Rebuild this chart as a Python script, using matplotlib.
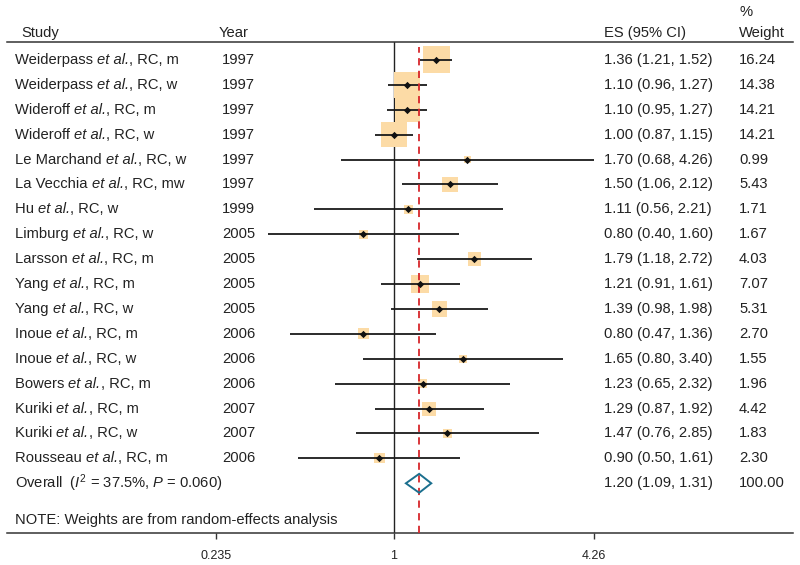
import matplotlib
matplotlib.use('Agg')
import matplotlib.pyplot as plt
import numpy as np

plt.rcParams['font.family'] = ['Liberation Sans', 'DejaVu Sans']
plt.rcParams['mathtext.fontset'] = 'custom'
plt.rcParams['mathtext.rm'] = 'Liberation Sans'
plt.rcParams['mathtext.it'] = 'Liberation Sans:italic'

# data
authors = ['Weiderpass', 'Weiderpass', 'Wideroff', 'Wideroff', 'Le Marchand',
           'La Vecchia', 'Hu', 'Limburg', 'Larsson', 'Yang', 'Yang', 'Inoue',
           'Inoue', 'Bowers', 'Kuriki', 'Kuriki', 'Rousseau']
groups = ['m', 'w', 'm', 'w', 'w', 'mw', 'w', 'w', 'm', 'm', 'w', 'm', 'w', 'm', 'm', 'w', 'm']
years = [1997, 1997, 1997, 1997, 1997, 1997, 1999, 2005, 2005, 2005, 2005,
         2006, 2006, 2006, 2007, 2007, 2006]
es = [1.36, 1.10, 1.10, 1.00, 1.70, 1.50, 1.11, 0.80, 1.79, 1.21, 1.39,
      0.80, 1.65, 1.23, 1.29, 1.47, 0.90]
lo = [1.21, 0.96, 0.95, 0.87, 0.68, 1.06, 0.56, 0.40, 1.18, 0.91, 0.98,
      0.47, 0.80, 0.65, 0.87, 0.76, 0.50]
hi = [1.52, 1.27, 1.27, 1.15, 4.26, 2.12, 2.21, 1.60, 2.72, 1.61, 1.98,
      1.36, 3.40, 2.32, 1.92, 2.85, 1.61]
weight = [16.24, 14.38, 14.21, 14.21, 0.99, 5.43, 1.71, 1.67, 4.03, 7.07, 5.31,
          2.70, 1.55, 1.96, 4.42, 1.83, 2.30]
overall_es, overall_lo, overall_hi = 1.20, 1.09, 1.31
overall_weight = '100.00'
i2_text = r'Overall  ($\mathit{I}^2$ = 37.5%, $\mathit{P}$ = 0.060)'
note = 'NOTE: Weights are from random-effects analysis'
tick_pos = [0.275, 1, 4.26]
tick_labels = ['0.235', '1', '4.26']

fig = plt.figure(figsize=(8, 5.65), dpi=100)
ax = fig.add_axes([7 / 800, 1 - 533 / 565, 786 / 800, (533 - 42) / 565])
ax.set_xscale('log')
ax.set_xlim(np.exp((7 - 394) / 138), np.exp((793 - 394) / 138))
ax.set_ylim((533 - 60) / 24.9, (42 - 60) / 24.9)

tc = '#222222'
n = len(es)
rows = np.arange(n)

ax.axvline(1, color='#222222', lw=1.0, zorder=1)
ax.axvline(overall_es, ymax=0.99, color='#d7262b', lw=1.3, ls=(0, (4, 3)), zorder=4)

side = 27 * np.sqrt(np.array(weight) / 16.24) * 0.72
ax.scatter(es, rows, s=side ** 2, marker='s', color='#fcdba6', lw=0, zorder=2)
ax.hlines(rows, lo, hi, color='#1a1a1a', lw=1.3, zorder=3)
ax.scatter(es, rows, s=14, marker='D', color='#111111', lw=0, zorder=5)

ro = n
dh = 0.38
ax.fill([overall_lo, overall_es, overall_hi, overall_es, overall_lo],
        [ro, ro - dh, ro, ro + dh, ro], facecolor='none',
        edgecolor='#1b6f8e', lw=1.4, zorder=6)

def fx(px):
    return (px - 7) / 786

tr = matplotlib.transforms.blended_transform_factory(ax.transAxes, ax.transData)
fs = 10.6
renderer = fig.canvas.get_renderer()

for i in range(n):
    # study label in three pieces so that "et al." is italic
    x = fx(15)
    for piece, style in [(authors[i] + ' ', 'normal'), ('et al.', 'italic'),
                         (', RC, ' + groups[i], 'normal')]:
        t = ax.text(x, i, piece, transform=tr, va='center', ha='left',
                    fontsize=fs, color=tc, style=style)
        bb = t.get_window_extent(renderer=renderer)
        x += bb.width / (ax.bbox.width)
    ax.text(fx(222), i, str(years[i]), transform=tr, va='center', ha='left', fontsize=fs, color=tc)
    ax.text(fx(604), i, '%.2f (%.2f, %.2f)' % (es[i], lo[i], hi[i]), transform=tr,
            va='center', ha='left', fontsize=fs, color=tc)
    ax.text(fx(739), i, '%.2f' % weight[i], transform=tr, va='center', ha='left',
            fontsize=fs, color=tc)

ax.text(fx(15), ro, i2_text, transform=tr, va='center', ha='left', fontsize=fs, color=tc)
ax.text(fx(604), ro, '%.2f (%.2f, %.2f)' % (overall_es, overall_lo, overall_hi),
        transform=tr, va='center', ha='left', fontsize=fs, color=tc)
ax.text(fx(739), ro, overall_weight, transform=tr, va='center', ha='left',
        fontsize=fs, color=tc)
ax.text(fx(15), (520 - 60) / 24.9, note, transform=tr, va='center', ha='left',
        fontsize=fs, color=tc)

hy = (33 - 60) / 24.9
ax.text(fx(21), hy, 'Study', transform=tr, va='center', ha='left', fontsize=fs, color=tc, clip_on=False)
ax.text(fx(219), hy, 'Year', transform=tr, va='center', ha='left', fontsize=fs, color=tc, clip_on=False)
ax.text(fx(604), hy, 'ES (95% CI)', transform=tr, va='center', ha='left', fontsize=fs, color=tc, clip_on=False)
ax.text(fx(739), hy, 'Weight', transform=tr, va='center', ha='left', fontsize=fs, color=tc, clip_on=False)
ax.text(fx(739), (12 - 60) / 24.9, '%', transform=tr, va='center', ha='left', fontsize=fs, color=tc, clip_on=False)

for s in ['left', 'right']:
    ax.spines[s].set_visible(False)
for s in ['top', 'bottom']:
    ax.spines[s].set_color('#333333')
    ax.spines[s].set_linewidth(1.1)
ax.set_yticks([])
ax.set_xticks(tick_pos)
ax.set_xticklabels(tick_labels)
ax.xaxis.set_minor_locator(matplotlib.ticker.NullLocator())
ax.tick_params(axis='x', length=4, width=1, color='#333333', labelsize=9,
               labelcolor=tc, pad=8)

fig.savefig('out.png', dpi=100)
